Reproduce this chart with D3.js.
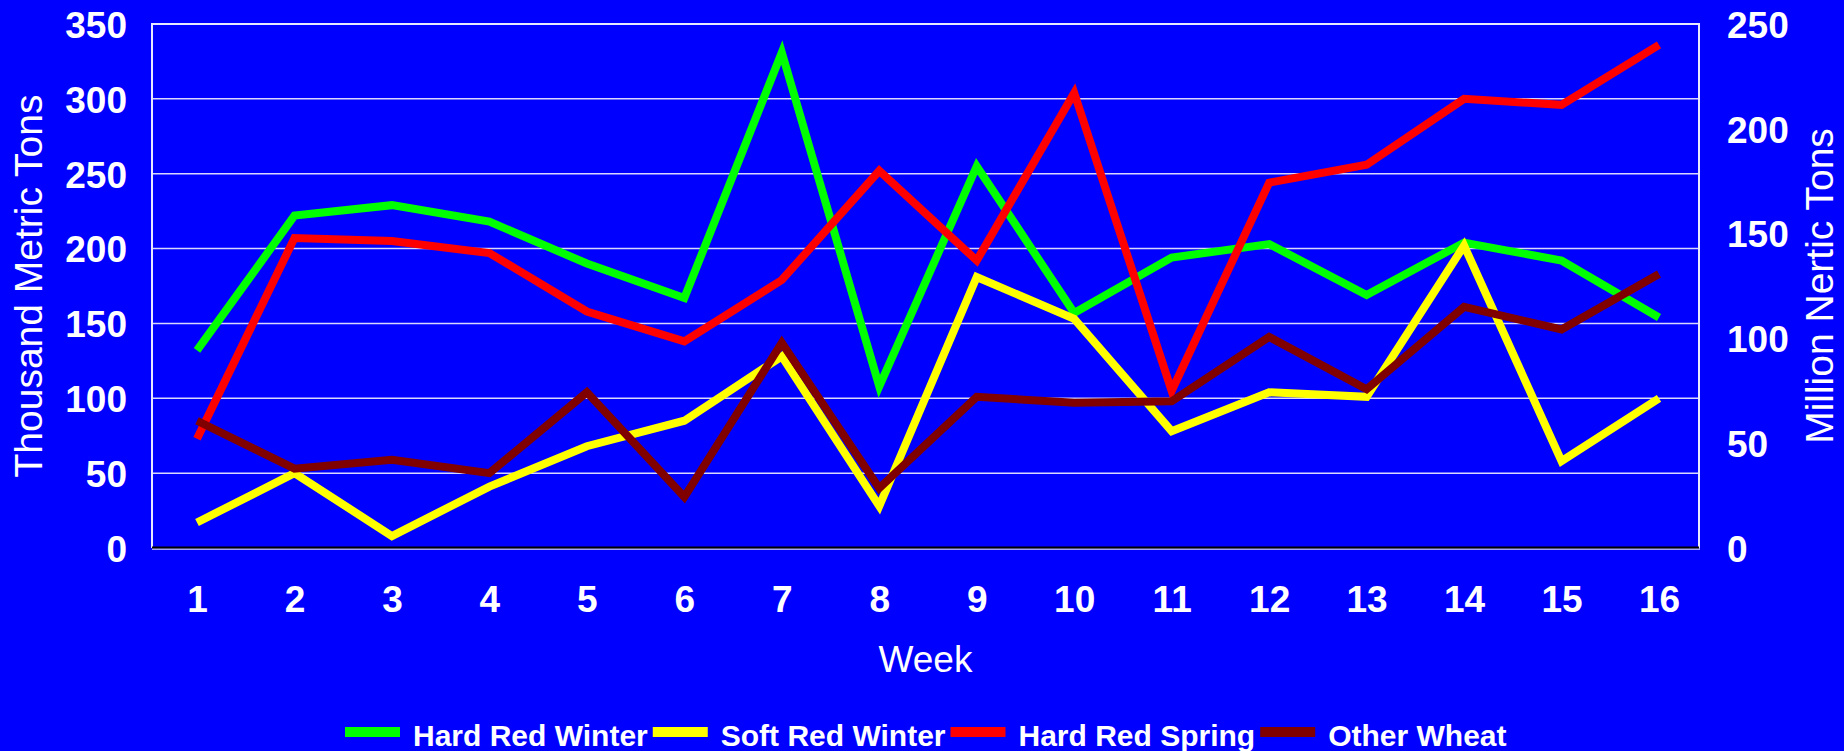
<!DOCTYPE html>
<html>
<head>
<meta charset="utf-8">
<script src="https://cdn.jsdelivr.net/npm/d3@7"></script>
<style>
  body { margin: 0; background: #0000ff; }
  svg { display: block; font-family: "Liberation Sans", Arial, sans-serif; }
</style>
</head>
<body>
<svg id="chart" width="1844" height="751"></svg>
<script>
// data
const weeks = ["1", "2", "3", "4", "5", "6", "7", "8", "9", "10", "11", "12", "13", "14", "15", "16"];
const hardRedWinter = [132, 222, 229, 218, 190, 167, 331, 108, 255, 157, 194, 203, 169, 204, 192, 154];
const softRedWinter = [17, 50, 8, 41, 68, 85, 128, 28, 181, 153, 78, 104, 101, 202, 58, 100];
const hardRedSpring = [73, 207, 205, 197, 158, 138, 179, 252, 192, 304, 105, 244, 256, 300, 296, 336];
const otherWheat = [85, 53, 59, 50, 104, 34, 137, 40, 101, 97, 98, 141, 106, 161, 146, 183];
const seriesNames = ["Hard Red Winter", "Soft Red Winter", "Hard Red Spring", "Other Wheat"];
const leftTicks = [0, 50, 100, 150, 200, 250, 300, 350];
const rightTicks = [0, 50, 100, 150, 200, 250];

const colors = ["#00ff00", "#ffff00", "#ff0000", "#800000"];
const allSeries = [hardRedWinter, softRedWinter, hardRedSpring, otherWheat];

const plot = { left: 152, right: 1699, top: 24, bottom: 548 };
const svg = d3.select("#chart");

var xScale = d3.scalePoint().domain(weeks).range([197, 1659]);
var yScale = d3.scaleLinear().domain([0, 350]).range([plot.bottom, plot.top]);
var yRight = d3.scaleLinear().domain([0, 250]).range([plot.bottom, plot.top]);

// plot background + gridlines
svg.append("rect")
  .attr("x", plot.left).attr("y", plot.top)
  .attr("width", plot.right - plot.left).attr("height", plot.bottom - plot.top)
  .attr("fill", "#0000ff");

svg.append("g")
  .selectAll("line")
  .data(leftTicks.slice(1, -1))
  .join("line")
  .attr("x1", plot.left).attr("x2", plot.right)
  .attr("y1", (d) => yScale(d)).attr("y2", (d) => yScale(d))
  .attr("stroke", "#d8d8ff")
  .attr("stroke-width", 1.5);

// border: white on left/top/right, black at the bottom
svg.append("path")
  .attr("d", `M${plot.left},${plot.bottom}V${plot.top}H${plot.right}V${plot.bottom}`)
  .attr("fill", "none")
  .attr("stroke", "#e8e8ff")
  .attr("stroke-width", 2);
svg.append("line")
  .attr("x1", plot.left).attr("x2", plot.right + 1)
  .attr("y1", plot.bottom + 1).attr("y2", plot.bottom + 1)
  .attr("stroke", "#d8d8ff").attr("stroke-width", 1.5);
svg.append("line")
  .attr("x1", plot.left).attr("x2", plot.right)
  .attr("y1", plot.bottom - 0.5).attr("y2", plot.bottom - 0.5)
  .attr("stroke", "#000000").attr("stroke-width", 2);

// lines
var lineGen = d3.line()
  .x((d, i) => xScale(weeks[i]))
  .y((d) => yScale(d));

svg.append("g")
  .selectAll("path")
  .data(allSeries)
  .join("path")
  .attr("d", (d) => lineGen(d))
  .attr("fill", "none")
  .attr("stroke", (d, i) => colors[i])
  .attr("stroke-width", 8)
  .attr("stroke-linejoin", "miter")
  .attr("stroke-miterlimit", 10);

// left axis
var leftAxis = d3.axisLeft(yScale).tickValues(leftTicks).tickSize(0).tickPadding(0);
var gl = svg.append("g").attr("transform", `translate(127,0)`).call(leftAxis);
gl.select(".domain").remove();
gl.selectAll("text")
  .attr("fill", "#fff").attr("font-size", 37).attr("font-weight", "bold")
  .attr("font-family", "Liberation Sans, Arial, sans-serif")
  .attr("dy", "0.36em");

// right axis
var rightAxis = d3.axisRight(yRight).tickValues(rightTicks).tickSize(0).tickPadding(0);
var gr = svg.append("g").attr("transform", `translate(1727,0)`).call(rightAxis);
gr.select(".domain").remove();
gr.selectAll("text")
  .attr("fill", "#fff").attr("font-size", 37).attr("font-weight", "bold")
  .attr("font-family", "Liberation Sans, Arial, sans-serif")
  .attr("dy", "0.36em");

// x axis
var xAxis = d3.axisBottom(xScale).tickSize(0).tickPadding(0);
var gx = svg.append("g").attr("transform", `translate(0,${plot.bottom})`).call(xAxis);
gx.select(".domain").remove();
gx.selectAll("text")
  .attr("fill", "#fff").attr("font-size", 37).attr("font-weight", "bold")
  .attr("font-family", "Liberation Sans, Arial, sans-serif")
  .attr("y", 64).attr("dy", 0);

// axis titles
svg.append("text")
  .attr("transform", "translate(42,286) rotate(-90)")
  .attr("text-anchor", "middle")
  .attr("fill", "#fff").attr("font-size", 39)
  .text("Thousand Metric Tons");

svg.append("text")
  .attr("transform", "translate(1833,286) rotate(-90)")
  .attr("text-anchor", "middle")
  .attr("fill", "#fff").attr("font-size", 39)
  .text("Million Nertic Tons");

svg.append("text")
  .attr("x", (plot.left + plot.right) / 2).attr("y", 672)
  .attr("text-anchor", "middle")
  .attr("fill", "#fff").attr("font-size", 37)
  .text("Week");

// legend
var legend = svg.append("g");
var lx = 345;
seriesNames.forEach((name, i) => {
  legend.append("rect")
    .attr("x", lx).attr("y", 727)
    .attr("width", 55).attr("height", 10)
    .attr("fill", colors[i]);
  var t = legend.append("text")
    .attr("x", lx + 68).attr("y", 746)
    .attr("fill", "#fff").attr("font-size", 30).attr("font-weight", "bold")
    .text(name);
  lx = lx + 68 + t.node().getComputedTextLength() + 5;
});
</script>
</body>
</html>
